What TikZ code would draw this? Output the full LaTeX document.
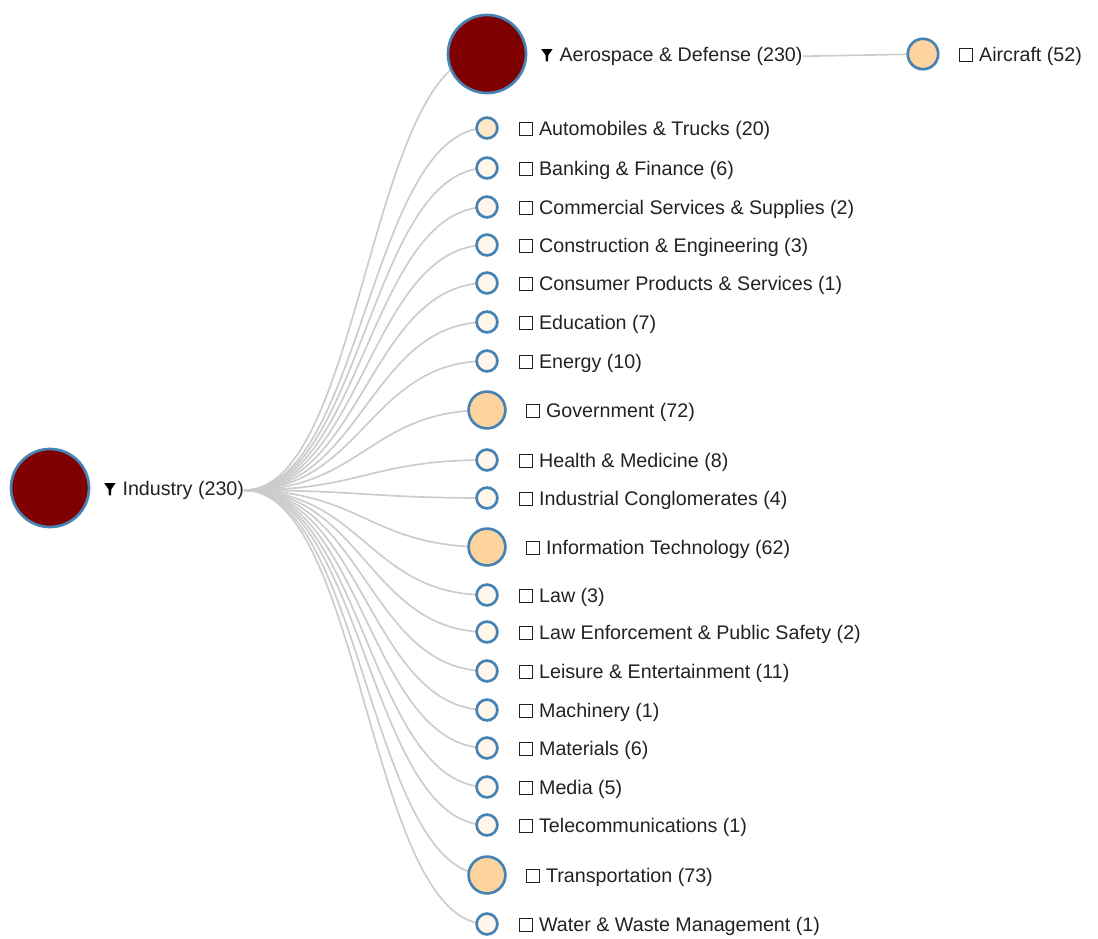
\documentclass[tikz,border=0pt]{standalone}
\usepackage{fontspec}
\setmainfont{Liberation Sans}
\usetikzlibrary{backgrounds}

\definecolor{deepred}{HTML}{7F0000}
\definecolor{peach}{HTML}{FDD49E}
\definecolor{cream}{HTML}{FEE8C8}
\definecolor{pale}{HTML}{FFF7EC}
\definecolor{steel}{RGB}{70,130,180}
\definecolor{linkgray}{HTML}{CCCCCC}
\definecolor{ink}{HTML}{222222}

% small icons in front of the labels
\newcommand{\chkbox}{\tikz[baseline=0pt]\draw[ink, line width=0.6pt] (0.3pt,0pt) rectangle (9.3pt,9.3pt);\hspace{4.5pt}}
\newcommand{\funnel}{\tikz[baseline=0pt]\fill[black] (0pt,8.6pt) -- (8pt,8.6pt) -- (5pt,4.4pt) -- (4.8pt,0pt) -- (3.2pt,0pt) -- (3pt,4.4pt) -- cycle;\hspace{5pt}}

\begin{document}
\begin{tikzpicture}[
            x = 0.025cm, y = -0.025cm,
            ring/.style = {circle, draw = steel, line width = 1.9pt, inner sep = 0mm},
            root/.style = {ring, fill = deepred, minimum size = 1.95cm},
            big/.style = {ring, fill = peach, minimum size = 0.92cm},
            mid/.style = {ring, fill = peach, minimum size = 0.76cm},
            leaf/.style = {ring, fill = pale, minimum size = 0.52cm},
            lbl/.style = {anchor = west, inner sep = 0mm, yshift = -1.6pt, text = ink, font = \fontsize{14}{16}\selectfont},
            link/.style = {draw = linkgray, line width = 1.2pt},
        ]
        \useasboundingbox (0,0) rectangle (1098,939);

        \node (ind) [root] at (50,488){};
        \node (ind-l) [lbl] at (104,488){\funnel Industry (230)};

        \node (aero) [root] at (487,54){};
        \node (aero-l) [lbl] at (541,54){\funnel Aerospace \& Defense (230)};
        \node (air) [mid] at (923,54){};
        \node (air-l) [lbl] at (959,54){\chkbox Aircraft (52)};

        \node (auto) [leaf, fill = cream] at (487,128){};
        \node (bank) [leaf] at (487,168){};
        \node (comm) [leaf] at (487,207){};
        \node (cons) [leaf] at (487,245){};
        \node (cprod) [leaf] at (487,283){};
        \node (edu) [leaf] at (487,322){};
        \node (ener) [leaf] at (487,361){};
        \node (gov) [big] at (487,410){};
        \node (hlth) [leaf] at (487,460){};
        \node (indc) [leaf] at (487,498){};
        \node (info) [big] at (487,547){};
        \node (law) [leaf] at (487,595){};
        \node (lawe) [leaf] at (487,632){};
        \node (leis) [leaf] at (487,671){};
        \node (mach) [leaf] at (487,710){};
        \node (mat) [leaf] at (487,748){};
        \node (med) [leaf] at (487,787){};
        \node (tele) [leaf] at (487,825){};
        \node (trans) [big] at (487,875){};
        \node (water) [leaf] at (487,924){};

        \node (auto-l) [lbl] at (519,128){\chkbox Automobiles \& Trucks (20)};
        \node (bank-l) [lbl] at (519,168){\chkbox Banking \& Finance (6)};
        \node (comm-l) [lbl] at (519,207){\chkbox Commercial Services \& Supplies (2)};
        \node (cons-l) [lbl] at (519,245){\chkbox Construction \& Engineering (3)};
        \node (cprod-l) [lbl] at (519,283){\chkbox Consumer Products \& Services (1)};
        \node (edu-l) [lbl] at (519,322){\chkbox Education (7)};
        \node (ener-l) [lbl] at (519,361){\chkbox Energy (10)};
        \node (gov-l) [lbl] at (526,410){\chkbox Government (72)};
        \node (hlth-l) [lbl] at (519,460){\chkbox Health \& Medicine (8)};
        \node (indc-l) [lbl] at (519,498){\chkbox Industrial Conglomerates (4)};
        \node (info-l) [lbl] at (526,547){\chkbox Information Technology (62)};
        \node (law-l) [lbl] at (519,595){\chkbox Law (3)};
        \node (lawe-l) [lbl] at (519,632){\chkbox Law Enforcement \& Public Safety (2)};
        \node (leis-l) [lbl] at (519,671){\chkbox Leisure \& Entertainment (11)};
        \node (mach-l) [lbl] at (519,710){\chkbox Machinery (1)};
        \node (mat-l) [lbl] at (519,748){\chkbox Materials (6)};
        \node (med-l) [lbl] at (519,787){\chkbox Media (5)};
        \node (tele-l) [lbl] at (519,825){\chkbox Telecommunications (1)};
        \node (trans-l) [lbl] at (526,875){\chkbox Transportation (73)};
        \node (water-l) [lbl] at (519,924){\chkbox Water \& Waste Management (1)};

        \begin{scope}[on background layer]
        \path[link] (ind-l.east) .. controls +(118,0) and +(-118,0) .. (aero.center);
        \path[link] (ind-l.east) .. controls +(118,0) and +(-118,0) .. (auto.center);
        \path[link] (ind-l.east) .. controls +(118,0) and +(-118,0) .. (bank.center);
        \path[link] (ind-l.east) .. controls +(118,0) and +(-118,0) .. (comm.center);
        \path[link] (ind-l.east) .. controls +(118,0) and +(-118,0) .. (cons.center);
        \path[link] (ind-l.east) .. controls +(118,0) and +(-118,0) .. (cprod.center);
        \path[link] (ind-l.east) .. controls +(118,0) and +(-118,0) .. (edu.center);
        \path[link] (ind-l.east) .. controls +(118,0) and +(-118,0) .. (ener.center);
        \path[link] (ind-l.east) .. controls +(118,0) and +(-118,0) .. (gov.center);
        \path[link] (ind-l.east) .. controls +(118,0) and +(-118,0) .. (hlth.center);
        \path[link] (ind-l.east) .. controls +(118,0) and +(-118,0) .. (indc.center);
        \path[link] (ind-l.east) .. controls +(118,0) and +(-118,0) .. (info.center);
        \path[link] (ind-l.east) .. controls +(118,0) and +(-118,0) .. (law.center);
        \path[link] (ind-l.east) .. controls +(118,0) and +(-118,0) .. (lawe.center);
        \path[link] (ind-l.east) .. controls +(118,0) and +(-118,0) .. (leis.center);
        \path[link] (ind-l.east) .. controls +(118,0) and +(-118,0) .. (mach.center);
        \path[link] (ind-l.east) .. controls +(118,0) and +(-118,0) .. (mat.center);
        \path[link] (ind-l.east) .. controls +(118,0) and +(-118,0) .. (med.center);
        \path[link] (ind-l.east) .. controls +(118,0) and +(-118,0) .. (tele.center);
        \path[link] (ind-l.east) .. controls +(118,0) and +(-118,0) .. (trans.center);
        \path[link] (ind-l.east) .. controls +(118,0) and +(-118,0) .. (water.center);
        \path[link] (aero-l.east) -- (air.center);
        \end{scope}
    \end{tikzpicture}
\end{document}
